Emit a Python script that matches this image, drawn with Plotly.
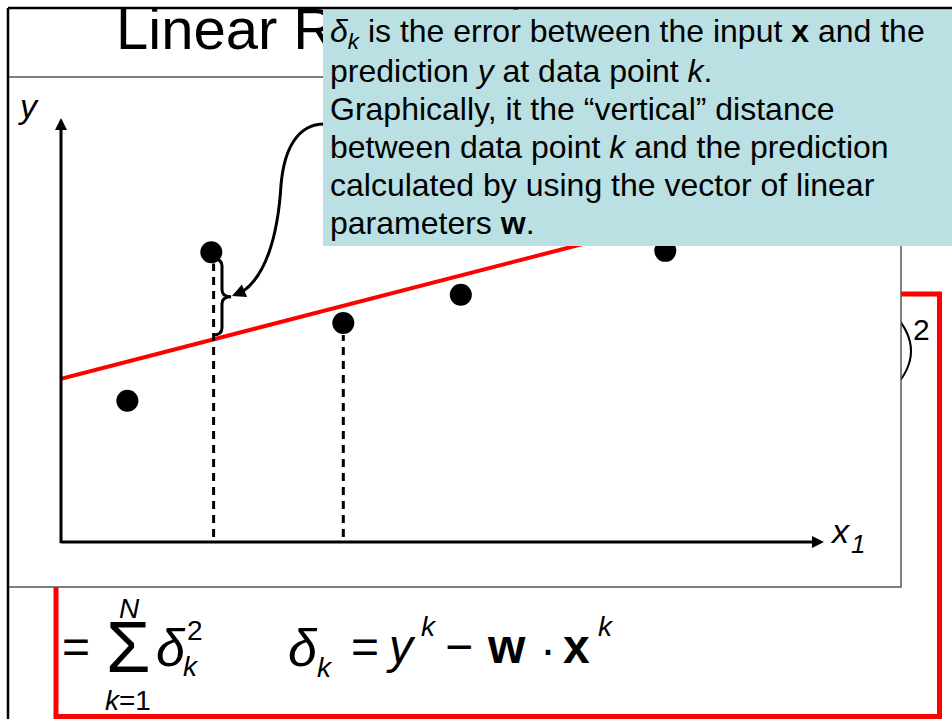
import plotly.graph_objects as go

# The page body margin is removed in the written page (see post_script),
# so reference pixel positions map directly onto the figure.
OFF = 0
W, H = 952 - OFF, 719 - OFF
FONT = "Arial, 'Liberation Sans', sans-serif"

# ---------------- data ----------------
point_x = [0.87, 1.97, 3.70, 5.24, 7.92]
point_y = [2.00, 4.10, 3.10, 3.50, 4.12]
fit_x = [0.0, 9.0]
fit_y = [2.31, 4.82]
drop_x = [2.00, 3.70]
drop_top = [3.94, 2.93]
drop_bottom = [0.07, 0.07]
x_range = [0, 10]
y_range = [0, 6]
brace_point = 1          # index of the point whose error is marked

title_text = "Linear Regression"
callout_lines = [
    "<i>δ<sub>k</sub></i> is the error between the input <b>x</b> and the",
    "prediction <i>y</i> at data point <i>k</i>.",
    "Graphically, it the “vertical” distance",
    "between data point <i>k</i> and the prediction",
    "calculated by using the vector of linear",
    "parameters <b>w</b>.",
]
callout_baselines = [45, 82, 120, 158, 196, 234]

TEAL = "rgb(186,224,227)"


def PX(x):
    return (x - OFF) / W


def PY(y):
    return 1 - (y - OFF) / H


def P(x, y):
    return f"{PX(x):.5f},{PY(y):.5f}"


def txt(s, x, baseline, size, xanchor="left", **kw):
    cy = baseline - 0.3465 * size
    return dict(text=s, x=PX(x), y=PY(cy), xref="paper", yref="paper",
                xanchor=xanchor, yanchor="middle", showarrow=False,
                font=dict(size=size, family=FONT, color="black"), **kw)


fig = go.Figure()

# fitted line
fig.add_trace(go.Scatter(x=fit_x, y=fit_y, mode="lines",
                         line=dict(color="red", width=4), hoverinfo="skip"))
# drop lines
for i in range(len(drop_x)):
    fig.add_trace(go.Scatter(x=[drop_x[i], drop_x[i]], y=[drop_bottom[i], drop_top[i]],
                             mode="lines", line=dict(color="black", width=3, dash="8px,6px"),
                             hoverinfo="skip"))
# data points
fig.add_trace(go.Scatter(x=point_x, y=point_y, mode="markers",
                         marker=dict(size=22, color="black"), hoverinfo="skip"))
# title (as a trace so that the callout box can cover it)
fig.add_trace(go.Scatter(x=[116], y=[34.5], mode="text", text=[title_text],
                         textposition="middle right", xaxis="x2", yaxis="y2",
                         textfont=dict(size=58, family=FONT, color="black"),
                         hoverinfo="skip", cliponaxis=False))

# ---------------- shapes ----------------
shapes = []
# red box (behind the graph box)
shapes.append(dict(type="rect", xref="paper", yref="paper",
                   x0=PX(56), x1=PX(939.5), y0=PY(716.5), y1=PY(294),
                   line=dict(color="red", width=5), fillcolor="rgba(0,0,0,0)", layer="below"))
# big closing parenthesis (partly hidden)
shapes.append(dict(type="path", xref="paper", yref="paper", layer="below",
                   path=f"M{P(893,313)} Q{P(929,351)} {P(893,389)}",
                   line=dict(color="black", width=2)))
# graph box
shapes.append(dict(type="rect", xref="paper", yref="paper",
                   x0=PX(8), x1=PX(901), y0=PY(587), y1=PY(77),
                   line=dict(color="#555555", width=1.5), fillcolor="white", layer="below"))

# brace between point and fitted line
bx = point_x[brace_point]
fy = fit_y[0] + (fit_y[1] - fit_y[0]) / (fit_x[1] - fit_x[0]) * (bx - fit_x[0])
yt = point_y[brace_point] - 0.09
yb = fy + 0.07
ym = (yt + yb) / 2
xl, xs, xt = bx + 0.02, bx + 0.14, bx + 0.26
r = 0.10
brace = (f"M{xl},{yt} Q{xs},{yt} {xs},{yt - r} L{xs},{ym + r} "
         f"Q{xs},{ym} {xt},{ym} Q{xs},{ym} {xs},{ym - r} "
         f"L{xs},{yb + r} Q{xs},{yb} {xl},{yb}")
shapes.append(dict(type="path", xref="x", yref="y", path=brace, layer="above",
                   line=dict(color="black", width=3)))
# curved pointer from callout to brace
shapes.append(dict(type="path", xref="paper", yref="paper", layer="above",
                   path=(f"M{P(326,124)} C{P(297,123)} {P(284,150)} {P(281,185)} "
                         f"C{P(278,235)} {P(266,276)} {P(242,292)}"),
                   line=dict(color="black", width=3)))
# callout box
shapes.append(dict(type="rect", xref="paper", yref="paper",
                   x0=PX(323), x1=PX(953), y0=PY(246), y1=PY(9.5),
                   line=dict(width=0), fillcolor=TEAL, layer="above"))
# slide frame
shapes.append(dict(type="line", xref="paper", yref="paper", layer="above",
                   x0=PX(8), x1=PX(953), y0=PY(8), y1=PY(8),
                   line=dict(color="black", width=2.5)))
shapes.append(dict(type="line", xref="paper", yref="paper", layer="above",
                   x0=PX(8), x1=PX(8), y0=PY(8), y1=PY(720),
                   line=dict(color="black", width=2.5)))

# ---------------- annotations ----------------
ann = []
# axes arrows
ann.append(dict(x=x_range[0], y=y_range[1], xref="x", yref="y", axref="x", ayref="y",
                ax=x_range[0], ay=-0.04, text="", showarrow=True, arrowhead=2,
                arrowsize=0.8, arrowwidth=3, arrowcolor="black"))
ann.append(dict(x=x_range[1], y=y_range[0], xref="x", yref="y", axref="x", ayref="y",
                ax=x_range[0] - 0.01, ay=y_range[0], text="", showarrow=True, arrowhead=2,
                arrowsize=0.8, arrowwidth=3, arrowcolor="black"))
# arrowhead of curved pointer
ann.append(dict(x=PX(232), y=PY(296), xref="paper", yref="paper", ax=12, ay=-5,
                text="", showarrow=True, arrowhead=2, arrowsize=0.9, arrowwidth=3,
                arrowcolor="black"))
# axis labels
ann.append(txt("<i>y</i>", 16, 118, 34))
ann.append(txt("<i>x</i>", 828, 543, 34))
ann.append(txt("<i>1</i>", 849, 553, 26))

# callout text
for line, b in zip(callout_lines, callout_baselines):
    ann.append(txt(line, 328, b, 32))

# formula
ann.append(txt("=", 60, 663, 48))
ann.append(txt("Σ", 128, 672, 72, xanchor="center"))
ann.append(txt("<i>N</i>", 129, 618, 28, xanchor="center"))
ann.append(txt("<i>k</i>=1", 128, 710, 28, xanchor="center"))
ann.append(txt("<i>δ</i>", 154, 666, 52))
ann.append(txt("2", 185, 640, 28))
ann.append(txt("<i>k</i>", 181, 676, 28))
ann.append(txt("<i>δ</i>", 286, 666, 52))
ann.append(txt("<i>k</i>", 315, 677, 28))
ann.append(txt("=", 349, 663, 48))
ann.append(txt("<i>y</i>", 384, 663, 48))
ann.append(txt("<i>k</i>", 419, 636, 28))
ann.append(txt("−", 443, 663, 48))
ann.append(txt("<b>w</b>", 485, 663, 48))
ann.append(txt("·", 548, 666, 48, xanchor="center"))
ann.append(txt("<b>x</b>", 561, 663, 48))
ann.append(txt("<i>k</i>", 596, 636, 28))
ann.append(txt("2", 911, 340, 30))

fig.update_layout(
    width=W, height=H, margin=dict(l=0, r=0, t=0, b=0),
    paper_bgcolor="white", plot_bgcolor="rgba(0,0,0,0)", showlegend=False,
    xaxis=dict(domain=[PX(61), PX(824)], range=x_range, visible=False, fixedrange=True),
    yaxis=dict(domain=[PY(542), PY(118)], range=y_range, visible=False, fixedrange=True),
    xaxis2=dict(domain=[0, 1], range=[OFF, OFF + W], visible=False, anchor="y2", fixedrange=True),
    yaxis2=dict(domain=[0, 1], range=[OFF + H, OFF], visible=False, anchor="x2", fixedrange=True),
    shapes=shapes, annotations=ann,
)

fig.write_html(
    "out.html",
    config={"displayModeBar": False, "staticPlot": True},
    post_script="document.body.style.margin='0';document.body.style.overflow='hidden';",
)
